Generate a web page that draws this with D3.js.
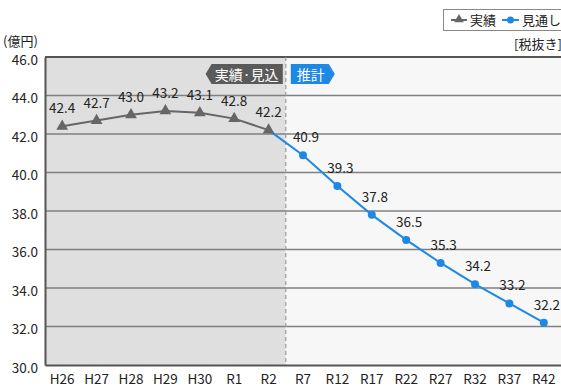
<!DOCTYPE html>
<html><head><meta charset="utf-8">
<script src="https://cdn.jsdelivr.net/npm/d3@7"></script>
<style>
body{margin:0;background:#fff;}
svg text{font-family:"Noto Sans CJK JP","Noto Sans",sans-serif;fill:#222;}
</style></head>
<body><svg id="c" width="561" height="387"></svg>
<script>
const categories = ["H26","H27","H28","H29","H30","R1","R2","R7","R12","R17","R22","R27","R32","R37","R42"];
const actualCats = ["H26","H27","H28","H29","H30","R1","R2"];
const actualValues = [42.4,42.7,43.0,43.2,43.1,42.8,42.2];
const forecastCats = ["R2","R7","R12","R17","R22","R27","R32","R37","R42"];
const forecastValues = [42.2,40.9,39.3,37.8,36.5,35.3,34.2,33.2,32.2];
const forecastLabelled = [false,true,true,true,true,true,true,true,true];
const yTicks = [30,32,34,36,38,40,42,44,46];

const svg = d3.select("#c");
const L = 45, R = 561, T = 57, B = 365;
const x = d3.scaleBand().domain(categories).range([L, R]);
const cx = c => x(c) + x.bandwidth()/2;
const y = d3.scaleLinear().domain([30,46]).range([B, T]);
const splitX = x("R7");

// background panels: results (grey) and projection (light)
svg.append("rect").attr("x",L).attr("y",T).attr("width",splitX-L).attr("height",B-T).attr("fill","#dfdfdf");
svg.append("rect").attr("x",splitX).attr("y",T).attr("width",R-splitX).attr("height",B-T).attr("fill","#f7f7f7");

// gridlines
svg.append("g").selectAll("line").data(yTicks.filter(t=>t>30)).join("line")
  .attr("x1",L).attr("x2",R).attr("y1",d=>y(d)).attr("y2",d=>y(d))
  .attr("stroke",d=>d===46?"#555":"#808080").attr("stroke-width",d=>d===46?2:1.3);

// divider between results and projection
svg.append("line").attr("x1",splitX).attr("x2",splitX).attr("y1",T).attr("y2",B)
  .attr("stroke","#999").attr("stroke-width",1.2).attr("stroke-dasharray","4,3");

// axes
const yAxis = d3.axisLeft(y).tickValues(yTicks).tickFormat(d3.format(".1f")).tickSize(0).tickPadding(7);
const gy = svg.append("g").attr("transform",`translate(${L},0)`).call(yAxis);
gy.select(".domain").attr("stroke","#555").attr("stroke-width",2);
gy.selectAll("text").attr("font-size",13.5).attr("fill","#222").attr("dy","0.55em");

const xAxis = d3.axisBottom(x).tickSize(0).tickPadding(9);
const gx = svg.append("g").attr("transform",`translate(0,${B})`).call(xAxis);
gx.select(".domain").attr("stroke","#555").attr("stroke-width",2);
gx.selectAll("text").attr("font-size",13.5).attr("fill","#222");

// unit
svg.append("text").attr("x",3).attr("y",46).attr("font-size",13).text("(億円)");

// lines
const line = d3.line().x(d=>cx(d[0])).y(d=>y(d[1]));
const aData = actualCats.map((c,i)=>[c,actualValues[i]]);
const fData = forecastCats.map((c,i)=>[c,forecastValues[i]]);

svg.append("path").datum(fData).attr("d",line).attr("fill","none").attr("stroke","#1e88e5").attr("stroke-width",2);
svg.append("path").datum(aData).attr("d",line).attr("fill","none").attr("stroke","#666").attr("stroke-width",2);

const tri = d3.symbol().type(d3.symbolTriangle).size(60);
svg.append("g").selectAll("path").data(aData).join("path")
  .attr("d",tri).attr("transform",d=>`translate(${cx(d[0])},${y(d[1])})`).attr("fill","#666");
svg.append("g").selectAll("circle").data(fData.filter((d,i)=>forecastLabelled[i])).join("circle")
  .attr("cx",d=>cx(d[0])).attr("cy",d=>y(d[1])).attr("r",4).attr("fill","#1e88e5");

// value labels
svg.append("g").selectAll("text").data(aData).join("text")
  .attr("x",d=>cx(d[0])).attr("y",d=>y(d[1])-13).attr("text-anchor","middle").attr("font-size",13.5)
  .text(d=>d[1].toFixed(1));
svg.append("g").selectAll("text").data(fData.filter((d,i)=>forecastLabelled[i])).join("text")
  .attr("x",d=>cx(d[0])+3).attr("y",d=>y(d[1])-13).attr("text-anchor","middle").attr("font-size",13.5)
  .text(d=>d[1].toFixed(1));

// period tags
const tg = svg.append("g");
const tip = x("H30")+23, tEnd = splitX-3;
tg.append("path").attr("d",`M${tEnd},64 L${tEnd},84 L${tip+6},84 L${tip},74 L${tip+6},64 Z`)
  .attr("fill","#5a5a5a");
tg.append("text").attr("x",(tEnd+tip+5)/2).attr("y",79.5).attr("text-anchor","middle")
  .attr("font-size",14).style("fill","#fff").text("実績·見込");
const bx = splitX+5;
tg.append("path").attr("d",`M${bx},64 L${bx+38},64 L${bx+44},74 L${bx+38},84 L${bx},84 Z`).attr("fill","#1e88e5");
tg.append("text").attr("x",bx+20).attr("y",79.5).attr("text-anchor","middle")
  .attr("font-size",14).style("fill","#fff").text("推計");

// legend
const lg = svg.append("g");
lg.append("rect").attr("x",443.5).attr("y",9.5).attr("width",130).attr("height",21).attr("fill","#fff").attr("stroke","#888");
lg.append("line").attr("x1",451).attr("x2",467).attr("y1",20).attr("y2",20).attr("stroke","#666").attr("stroke-width",2);
lg.append("path").attr("d",d3.symbol().type(d3.symbolTriangle).size(40)).attr("transform","translate(459,19.5)").attr("fill","#666");
lg.append("text").attr("x",470).attr("y",25).attr("font-size",13).text("実績");
lg.append("line").attr("x1",502).attr("x2",519).attr("y1",20).attr("y2",20).attr("stroke","#1e88e5").attr("stroke-width",2);
lg.append("circle").attr("cx",510.5).attr("cy",20).attr("r",3.5).attr("fill","#1e88e5");
lg.append("text").attr("x",522).attr("y",25).attr("font-size",13).text("見通し");

svg.append("text").attr("x",514).attr("y",49).attr("font-size",13).text("[税抜き]");
</script></body></html>
